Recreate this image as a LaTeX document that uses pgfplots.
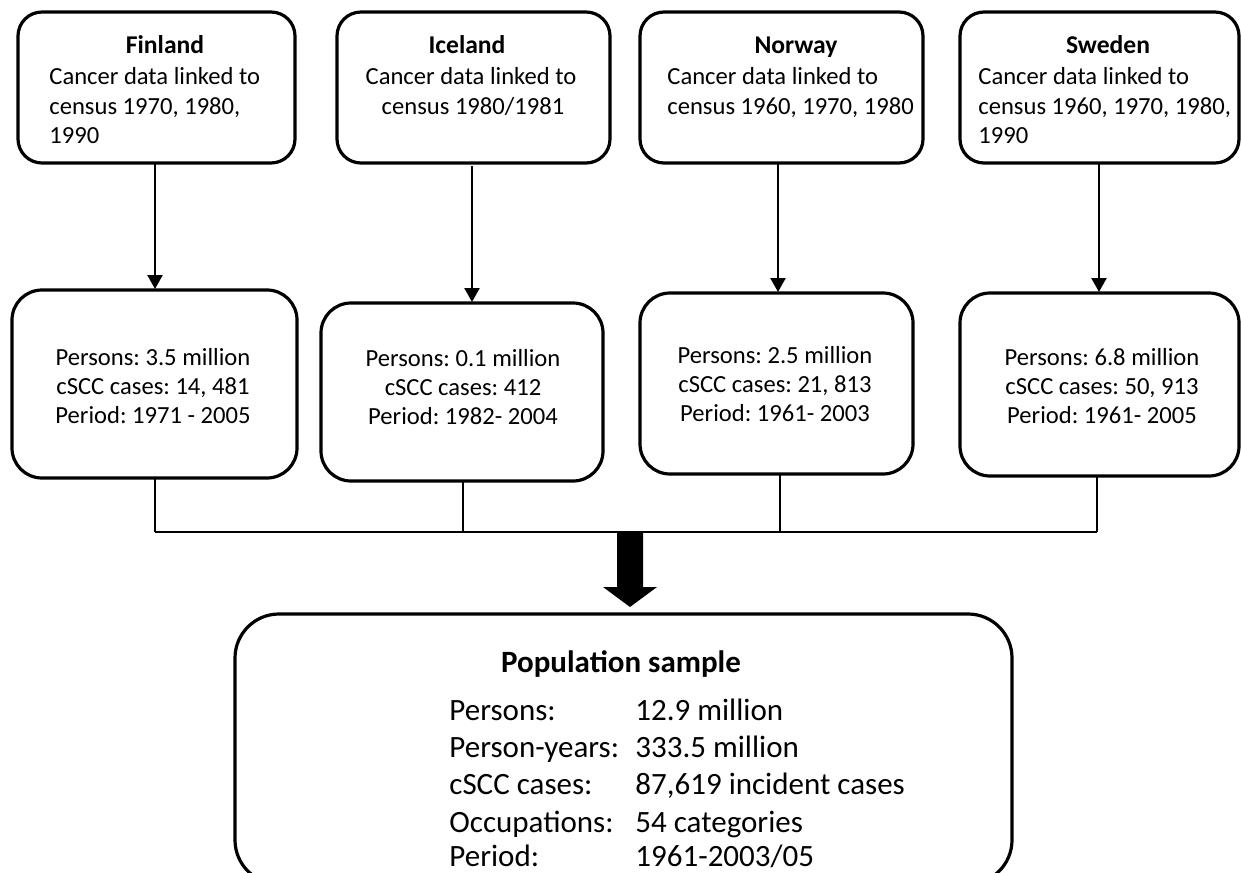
\documentclass[border=0pt]{standalone}
\usepackage{pgfplots}
\pgfplotsset{compat=1.18}
\usepackage{fontspec}
\setmainfont{Carlito}
\usetikzlibrary{arrows.meta}

% 1 px of the reference = 0.5pt
\tikzset{
  t/.style={font=\fontsize{12.3}{15}\selectfont, inner sep=0pt},
  tb/.style={font=\fontsize{12.8}{15}\selectfont\bfseries, inner sep=0pt},
  b/.style={font=\fontsize{15.5}{18}\selectfont, inner sep=0pt},
  bb/.style={font=\fontsize{15.5}{18}\selectfont\bfseries, inner sep=0pt},
  box/.style={line width=1.6pt},
}

\begin{document}
\frenchspacing
\begin{tikzpicture}
\begin{axis}[
    width=620.5pt, height=436pt, scale only axis,
    xmin=0, xmax=1241, ymin=0, ymax=872, y dir=reverse,
    axis lines=none, clip=false,
]
% boxes, top row
\draw[box, rounded corners=12pt] (18,12) rectangle (295,163);
\draw[box, rounded corners=12pt] (337,12) rectangle (610,163);
\draw[box, rounded corners=12pt] (640,12) rectangle (923,163);
\draw[box, rounded corners=12pt] (960,12) rectangle (1239,163);
% boxes, middle row
\draw[box, rounded corners=15pt] (12,290) rectangle (297,478);
\draw[box, rounded corners=15pt] (321,303) rectangle (603,481);
\draw[box, rounded corners=15pt] (640,293) rectangle (913,474);
\draw[box, rounded corners=15pt] (960,293) rectangle (1239,476);
% bottom box (its lower edge lies just past the picture's edge)
\draw[box, rounded corners=22pt] (235,614) rectangle (1012,884);

% arrows between rows
\addplot[line width=1.2pt, mark=none, -{Triangle[length=7pt,width=7.5pt]}] coordinates {(155,163) (155,289)};
\addplot[line width=1.2pt, mark=none, -{Triangle[length=7pt,width=7.5pt]}] coordinates {(472,166) (472,302)};
\addplot[line width=1.2pt, mark=none, -{Triangle[length=7pt,width=7.5pt]}] coordinates {(778,163) (778,292)};
\addplot[line width=1.2pt, mark=none, -{Triangle[length=7pt,width=7.5pt]}] coordinates {(1099,163) (1099,292)};

% connectors to the joining line
\addplot[line width=1.3pt, mark=none] coordinates {(155,478) (155,532)};
\addplot[line width=1.3pt, mark=none] coordinates {(463,481) (463,532)};
\addplot[line width=1.3pt, mark=none] coordinates {(780,474) (780,532)};
\addplot[line width=1.3pt, mark=none] coordinates {(1097,476) (1097,532)};
\addplot[line width=1.3pt, mark=none] coordinates {(155,532) (1097,532)};

% block arrow
\addplot[fill=black, draw=none, mark=none] coordinates {
  (617,533) (643,533) (643,587) (657,587) (630,607) (603,587) (617,587) (617,533)} -- cycle;

% top row text
\node[tb, anchor=base] at (165,54) {Finland};
\node[t, anchor=base west] at (49,85) {Cancer data linked to};
\node[t, anchor=base west] at (49,114) {census 1970, 1980,};
\node[t, anchor=base west] at (49,143) {1990};

\node[tb, anchor=base] at (467,54) {Iceland};
\node[t, anchor=base] at (471,85) {Cancer data linked to};
\node[t, anchor=base] at (473,114) {census 1980/1981};

\node[tb, anchor=base] at (796,54) {Norway};
\node[t, anchor=base west] at (667,85) {Cancer data linked to};
\node[t, anchor=base west] at (667,114) {census 1960, 1970, 1980};

\node[tb, anchor=base] at (1108,54) {Sweden};
\node[t, anchor=base west] at (978,85) {Cancer data linked to};
\node[t, anchor=base west] at (978,114) {census 1960, 1970, 1980,};
\node[t, anchor=base west] at (978,143) {1990};

% middle row text
\node[t, anchor=base] at (153,365) {Persons: 3.5 million};
\node[t, anchor=base] at (153,394) {cSCC cases: 14, 481};
\node[t, anchor=base] at (153,423) {Period: 1971 - 2005};

\node[t, anchor=base] at (463,366) {Persons: 0.1 million};
\node[t, anchor=base] at (463,395) {cSCC cases: 412};
\node[t, anchor=base] at (463,424) {Period: 1982- 2004};

\node[t, anchor=base] at (775,363) {Persons: 2.5 million};
\node[t, anchor=base] at (775,392) {cSCC cases: 21, 813};
\node[t, anchor=base] at (775,421) {Period: 1961- 2003};

\node[t, anchor=base] at (1102,365) {Persons: 6.8 million};
\node[t, anchor=base] at (1102,394) {cSCC cases: 50, 913};
\node[t, anchor=base] at (1102,423) {Period: 1961- 2005};

% bottom box text
\node[bb, anchor=base] at (621,672) {Population sample};
\node[b, anchor=base west] at (449,720) {Persons:};
\node[b, anchor=base west] at (635,720) {12.9 million};
\node[b, anchor=base west] at (449,757) {Person-years:};
\node[b, anchor=base west] at (635,757) {333.5 million};
\node[b, anchor=base west] at (449,794) {cSCC cases:};
\node[b, anchor=base west] at (635,794) {87,619 incident cases};
\node[b, anchor=base west] at (449,832) {Occupations:};
\node[b, anchor=base west] at (635,832) {54 categories};
\node[b, anchor=base west] at (449,866) {Period:};
\node[b, anchor=base west] at (635,866) {1961-2003/05};
\end{axis}
\pgfresetboundingbox
\path (current axis.south west) rectangle (current axis.north east);
\end{tikzpicture}
\end{document}
